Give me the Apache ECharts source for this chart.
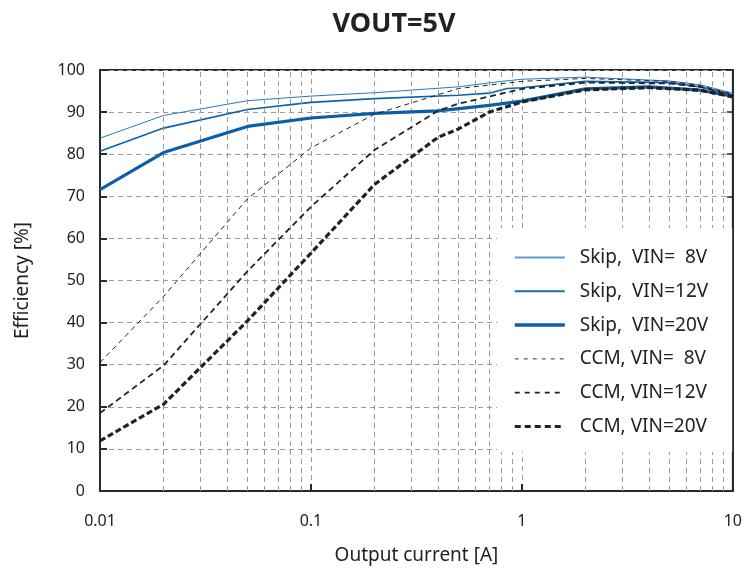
<!DOCTYPE html>
<html>
<head>
<meta charset="utf-8">
<script src="https://cdn.jsdelivr.net/npm/echarts@6/dist/echarts.min.js"></script>
<style>html,body{margin:0;padding:0;background:#fff;}#c{width:745px;height:570px;}</style>
</head>
<body>
<div id="c"></div>
<script>
// ---- data ----
const titleText = 'VOUT=5V';
const xName = 'Output current [A]';
const yName = 'Efficiency [%]';
const xTickLabels = {0.01: '0.01', 0.1: '0.1', 1: '1', 10: '10'};
const minorGridX = [0.02,0.03,0.04,0.05,0.06,0.07,0.08,0.09,0.2,0.3,0.4,0.5,0.6,0.7,0.8,0.9,2,3,4,5,6,7,8,9];

const seriesNames = ['Skip,  VIN=  8V','Skip,  VIN=12V','Skip,  VIN=20V','CCM, VIN=  8V','CCM, VIN=12V','CCM, VIN=20V'];

const skip8_x  = [0.01,0.02,0.05,0.1,0.2,0.5,0.8,1,2,5,7,10];
const skip8_y  = [83.8,89.2,92.7,93.8,94.6,96.0,97.3,97.8,98.3,97.4,96.5,94.5];
const skip12_x = [0.01,0.02,0.05,0.1,0.2,0.5,0.7,0.85,1,2,5,7,10];
const skip12_y = [80.7,86.2,90.6,92.3,93.2,94.0,94.5,95.6,95.8,97.3,97.0,96.0,94.0];
const skip20_x = [0.01,0.02,0.05,0.1,0.2,0.4,0.7,1,2,4,7,10];
const skip20_y = [71.6,80.4,86.6,88.6,89.7,90.3,91.6,92.6,95.5,96.0,95.2,93.8];
const ccm8_x   = [0.01,0.02,0.05,0.1,0.2,0.5,1,2,5,7,10];
const ccm8_y   = [30.5,46.2,69.4,81.5,89.5,95.6,97.3,98.0,97.3,96.3,94.3];
const ccm12_x  = [0.01,0.02,0.05,0.1,0.2,0.4,0.5,1,2,5,7,10];
const ccm12_y  = [18.5,29.8,52.2,67.5,81.0,90.3,92.0,95.5,97.0,96.8,96.0,94.0];
const ccm20_x  = [0.01,0.02,0.05,0.1,0.2,0.4,0.5,0.7,1,2,4,7,10];
const ccm20_y  = [11.9,20.6,40.4,56.5,72.8,84.0,86.0,90.0,92.4,95.3,95.8,95.2,93.6];

const FONT = 'Noto Sans';
const pair = (xs, ys) => xs.map((x, i) => [x, ys[i]]);

const styles = [
  {color:'#2a78bf', width:1,   type:'solid'},
  {color:'#0b63ae', width:1.6, type:'solid'},
  {color:'#0a5fa8', width:3.2, type:'solid'},
  {color:'#222222', width:1,   type:[5,4]},
  {color:'#222222', width:1.8, type:[6,4]},
  {color:'#222222', width:3.2, type:[6,3]}
];
const legendStyles = [
  {color:'#5c9bd3', width:2,   type:'solid'},
  {color:'#1a6cb3', width:2,   type:'solid'},
  {color:'#0a5fa8', width:3.5, type:'solid'},
  {color:'#333333', width:1,   type:[4,5]},
  {color:'#222222', width:1.8, type:[5,5]},
  {color:'#222222', width:3.2, type:[6,4]}
];
const datas = [pair(skip8_x,skip8_y), pair(skip12_x,skip12_y), pair(skip20_x,skip20_y),
               pair(ccm8_x,ccm8_y), pair(ccm12_x,ccm12_y), pair(ccm20_x,ccm20_y)];

const gridDash = {color:'#9a9a9a', width:1, type:[5,4]};

const series = [{
  name: '_grid', type: 'line', data: [], silent: true, z: 1,
  markLine: {
    silent: true, symbol: ['none','none'], label: {show:false},
    lineStyle: gridDash, animation: false,
    data: minorGridX.map(v => ({xAxis: v}))
  }
}];
seriesNames.forEach((nm, i) => {
  series.push({
    name: nm, type: 'line', data: datas[i], symbol: 'none',
    smooth: false, z: 3 + i,
    lineStyle: {color: styles[i].color, width: styles[i].width, type: styles[i].type},
    itemStyle: {color: styles[i].color}
  });
});

const chart = echarts.init(document.getElementById('c'), null, {renderer:'canvas'});
chart.setOption({
  animation: false,
  backgroundColor: '#fff',
  textStyle: {fontFamily: FONT},
  title: {
    text: titleText, left: 389, top: 6, textAlign: 'center',
    textStyle: {fontFamily: FONT, fontSize: 27, fontWeight: 'bold', color: '#222'}
  },
  grid: {left: 100, right: 11, top: 70, bottom: 77, show: true, borderColor: '#2a2a2a', borderWidth: 2, containLabel: false},
  legend: {
    data: seriesNames.map((nm, i) => ({
      name: nm,
      lineStyle: {color: legendStyles[i].color, width: legendStyles[i].width, type: legendStyles[i].type},
      itemStyle: {opacity: 0}
    })),
    orient: 'vertical', left: 497, top: 228,
    backgroundColor: '#fff', padding: [20, 24, 16, 16],
    itemWidth: 50, itemHeight: 14, itemGap: 14.8,
    itemStyle: {opacity: 0},
    textStyle: {fontFamily: FONT, fontSize: 19, color: '#222', padding: [0,0,0,10]},
    selectedMode: false, z: 10
  },
  xAxis: {
    type: 'log', logBase: 10, min: 0.01, max: 10,
    name: xName, nameLocation: 'middle', nameGap: 55,
    nameTextStyle: {fontFamily: FONT, fontSize: 19, color: '#222'},
    axisLine: {show: true, lineStyle: {color: '#2a2a2a', width: 2}},
    axisTick: {show: true, inside: true, length: 7, lineStyle: {color: '#2a2a2a', width: 2}},
    axisLabel: {fontFamily: FONT, fontSize: 16, color: '#222', margin: 22,
      formatter: v => { const k = Math.round(Math.log10(v)); return xTickLabels[Math.pow(10,k).toFixed(Math.max(0,-k))*1] || String(v); }},
    splitLine: {show: true, lineStyle: gridDash}
  },
  yAxis: [{
    type: 'value', min: 0, max: 100, interval: 10,
    name: yName, nameLocation: 'middle', nameGap: 68,
    nameTextStyle: {fontFamily: FONT, fontSize: 19, color: '#222'},
    axisLine: {show: true, lineStyle: {color: '#2a2a2a', width: 2}},
    axisTick: {show: true, inside: true, length: 7, lineStyle: {color: '#2a2a2a', width: 2}},
    axisLabel: {fontFamily: FONT, fontSize: 16, color: '#222', margin: 15},
    splitLine: {show: true, lineStyle: gridDash}
  }, {
    type: 'value', min: 0, max: 100, interval: 10, position: 'right',
    axisLine: {show: true, lineStyle: {color: '#2a2a2a', width: 2}},
    axisTick: {show: true, inside: true, length: 6, lineStyle: {color: '#2a2a2a', width: 1.5}},
    axisLabel: {show: false}, splitLine: {show: false}
  }],
  series: series
});
</script>
</body>
</html>
